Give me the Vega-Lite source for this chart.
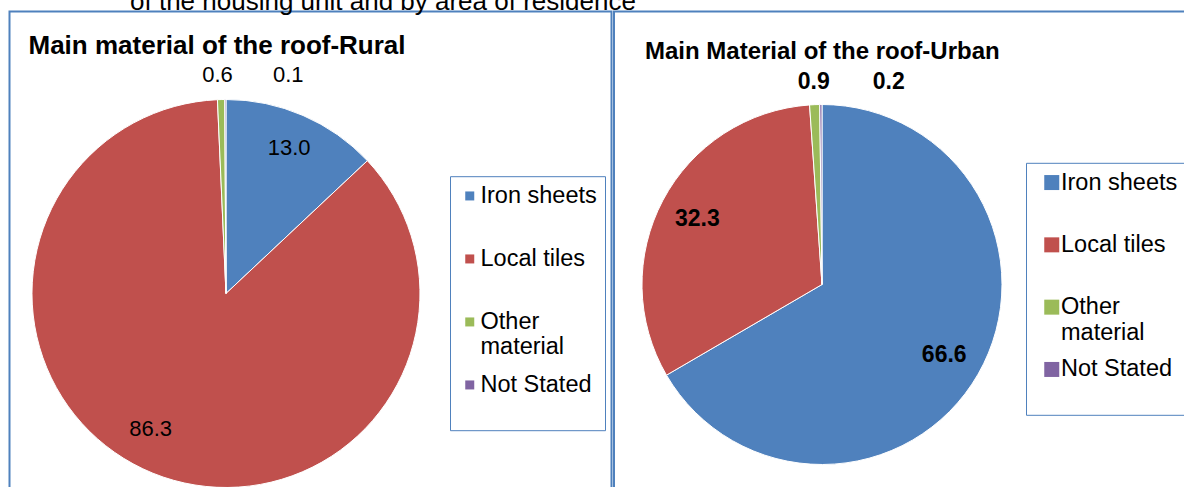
{
  "$schema": "https://vega.github.io/schema/vega-lite/v6.json",
  "background": "white",
  "padding": {"left": 8.5, "top": -11.5, "right": 0, "bottom": 0},
  "title": {
    "text": "of the housing unit and by area of residence",
    "anchor": "start", "frame": "group", "dx": 120.5, "offset": -25,
    "baseline": "alphabetic", "fontSize": 26, "fontWeight": "normal",
    "font": "Liberation Sans", "color": "black"
  },
  "datasets": {
    "rural": [
      {"area": "Rural", "material": "Iron sheets", "value": 13.0, "rank": 1},
      {"area": "Rural", "material": "Local tiles", "value": 86.3, "rank": 2},
      {"area": "Rural", "material": "Other material", "value": 0.6, "rank": 3},
      {"area": "Rural", "material": "Not Stated", "value": 0.1, "rank": 4}
    ],
    "urban": [
      {"area": "Urban", "material": "Iron sheets", "value": 66.6, "rank": 1},
      {"area": "Urban", "material": "Local tiles", "value": 32.3, "rank": 2},
      {"area": "Urban", "material": "Other material", "value": 0.9, "rank": 3},
      {"area": "Urban", "material": "Not Stated", "value": 0.2, "rank": 4}
    ]
  },
  "spacing": 2.5,
  "bounds": "flush",
  "resolve": {
    "scale": {"color": "independent", "theta": "independent", "x": "independent", "y": "independent"},
    "legend": {"color": "independent"}
  },
  "hconcat": [
    {
      "width": 602, "height": 480,
      "data": {"name": "rural"},
      "view": {"stroke": "#4F81BD", "strokeWidth": 2},
      "title": {
        "text": "Main material of the roof-Rural",
        "anchor": "start", "frame": "group", "dx": 19, "offset": -68,
        "baseline": "alphabetic", "fontSize": 26, "fontWeight": "bold",
        "font": "Liberation Sans", "color": "black"
      },
      "encoding": {
        "x": {"field": "area", "type": "nominal", "axis": null, "scale": {"type": "point", "domain": ["Rural"], "padding": 0, "align": 0.3596}},
        "y": {"field": "area", "type": "nominal", "axis": null, "scale": {"type": "point", "domain": ["Rural"], "padding": 0, "align": 0.5875}},
        "theta": {"field": "value", "type": "quantitative", "stack": true},
        "order": {"field": "rank", "type": "quantitative"}
      },
      "layer": [
        {
          "mark": {"type": "arc", "radius": 194, "stroke": "white", "strokeWidth": 1},
          "encoding": {
            "color": {
              "field": "material", "type": "nominal",
              "scale": {
                "domain": ["Iron sheets", "Local tiles", "Other material", "Not Stated"],
                "range": ["#4F81BD", "#C0504D", "#9BBB59", "#8064A2"]
              },
              "legend": {
                "orient": "none", "legendX": 440.5, "legendY": 164.7, "title": null,
                "strokeColor": "#4F81BD", "padding": 8,
                "labelFont": "Liberation Sans", "labelFontSize": 23.5, "labelColor": "black",
                "symbolType": "square", "symbolSize": 81, "symbolStrokeWidth": 0,
                "symbolOffset": 0, "labelOffset": -1, "rowPadding": 13, "labelLimit": 300,
                "labelExpr": "datum.label === 'Other material' ? ['Other', 'material'] : [datum.label, '']"
              }
            }
          }
        },
        {
          "mark": {"type": "text", "radius": 159, "fontSize": 22, "font": "Liberation Sans", "color": "black", "align": "center", "baseline": "middle"},
          "encoding": {
            "detail": {"field": "material"},
            "text": {"condition": {"test": "datum.material === 'Iron sheets'", "field": "value", "type": "quantitative", "format": ".1f"}, "value": ""}
          }
        },
        {
          "mark": {"type": "text", "radius": 155, "dx": -17, "dy": -8, "fontSize": 22, "font": "Liberation Sans", "color": "black", "align": "center", "baseline": "middle"},
          "encoding": {
            "detail": {"field": "material"},
            "text": {"condition": {"test": "datum.material === 'Local tiles'", "field": "value", "type": "quantitative", "format": ".1f"}, "value": ""}
          }
        },
        {
          "mark": {"type": "text", "radius": 219, "dx": -3, "fontSize": 22, "font": "Liberation Sans", "color": "black", "align": "center", "baseline": "middle"},
          "encoding": {
            "detail": {"field": "material"},
            "text": {"condition": {"test": "datum.material === 'Other material'", "field": "value", "type": "quantitative", "format": ".1f"}, "value": ""}
          }
        },
        {
          "mark": {"type": "text", "radius": 219, "dx": 63, "fontSize": 22, "font": "Liberation Sans", "color": "black", "align": "center", "baseline": "middle"},
          "encoding": {
            "detail": {"field": "material"},
            "text": {"condition": {"test": "datum.material === 'Not Stated'", "field": "value", "type": "quantitative", "format": ".1f"}, "value": ""}
          }
        }
      ]
    },
    {
      "width": 580, "height": 480,
      "data": {"name": "urban"},
      "view": {"stroke": "#4F81BD", "strokeWidth": 2},
      "title": {
        "text": "Main Material of the roof-Urban",
        "anchor": "start", "frame": "group", "dx": 31, "offset": -71.5,
        "baseline": "alphabetic", "fontSize": 24, "fontWeight": "bold",
        "font": "Liberation Sans", "color": "black"
      },
      "encoding": {
        "x": {"field": "area", "type": "nominal", "axis": null, "scale": {"type": "point", "domain": ["Urban"], "padding": 0, "align": 0.3586}},
        "y": {"field": "area", "type": "nominal", "axis": null, "scale": {"type": "point", "domain": ["Urban"], "padding": 0, "align": 0.56875}},
        "theta": {"field": "value", "type": "quantitative", "stack": true},
        "order": {"field": "rank", "type": "quantitative"}
      },
      "layer": [
        {
          "mark": {"type": "arc", "radius": 180, "stroke": "white", "strokeWidth": 1},
          "encoding": {
            "color": {
              "field": "material", "type": "nominal",
              "scale": {
                "domain": ["Iron sheets", "Local tiles", "Other material", "Not Stated"],
                "range": ["#4F81BD", "#C0504D", "#9BBB59", "#8064A2"]
              },
              "legend": {
                "orient": "none", "legendX": 412, "legendY": 151.3, "title": null,
                "strokeColor": "#4F81BD", "padding": 8,
                "labelFont": "Liberation Sans", "labelFontSize": 23.5, "labelColor": "black",
                "symbolType": "square", "symbolSize": 225, "symbolStrokeWidth": 0,
                "symbolOffset": 6, "labelOffset": -2.5, "rowPadding": 12.3, "labelLimit": 300,
                "labelExpr": "datum.label === 'Other material' ? ['Other', 'material'] : [datum.label, '']"
              }
            }
          }
        },
        {
          "mark": {"type": "text", "radius": 141, "fontSize": 23, "fontWeight": "bold", "font": "Liberation Sans", "color": "black", "align": "center", "baseline": "middle"},
          "encoding": {
            "detail": {"field": "material"},
            "text": {"condition": {"test": "datum.rank <= 2", "field": "value", "type": "quantitative", "format": ".1f"}, "value": ""}
          }
        },
        {
          "mark": {"type": "text", "radius": 203, "fontSize": 23, "fontWeight": "bold", "font": "Liberation Sans", "color": "black", "align": "center", "baseline": "middle"},
          "encoding": {
            "detail": {"field": "material"},
            "text": {"condition": {"test": "datum.material === 'Other material'", "field": "value", "type": "quantitative", "format": ".1f"}, "value": ""}
          }
        },
        {
          "mark": {"type": "text", "radius": 203, "dx": 68, "fontSize": 23, "fontWeight": "bold", "font": "Liberation Sans", "color": "black", "align": "center", "baseline": "middle"},
          "encoding": {
            "detail": {"field": "material"},
            "text": {"condition": {"test": "datum.material === 'Not Stated'", "field": "value", "type": "quantitative", "format": ".1f"}, "value": ""}
          }
        }
      ]
    }
  ],
  "config": {
    "view": {"stroke": null},
    "font": "Liberation Sans"
  }
}
